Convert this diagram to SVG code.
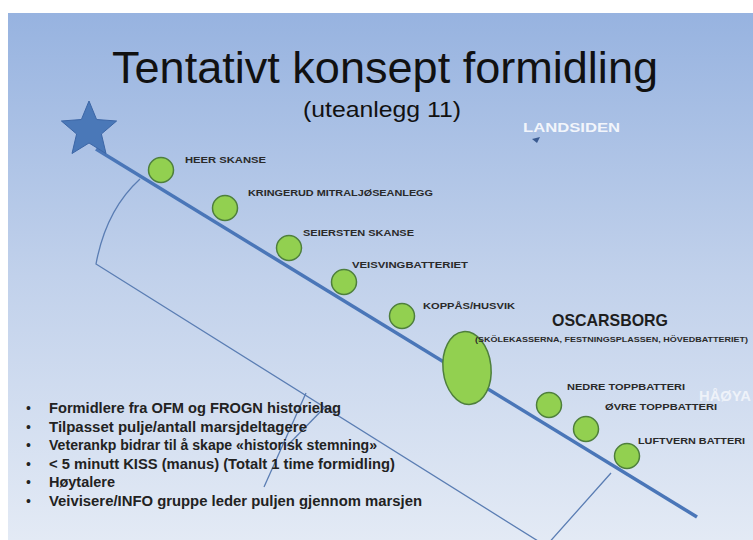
<svg xmlns="http://www.w3.org/2000/svg" width="753" height="540" viewBox="0 0 753 540">
<defs>
<linearGradient id="bg" x1="0" y1="0" x2="0" y2="1">
<stop offset="0" stop-color="#97b3e0"/>
<stop offset="0.5" stop-color="#c1d1eb"/>
<stop offset="1" stop-color="#e3eaf5"/>
</linearGradient>
</defs>
<style>
.lbl{font-family:"Liberation Sans",Arial,sans-serif;font-weight:bold;font-size:8.5px;fill:#2a2a2a}
.stop{fill:#92d050;stroke:#4e7f3c;stroke-width:1.5}
.thin{fill:none;stroke:#5a7db3;stroke-width:1.3}
.bul{font-family:"Liberation Sans",Arial,sans-serif;font-weight:bold;font-size:14px;fill:#222}
.dot{font-family:"Liberation Sans",Arial,sans-serif;font-size:14px;fill:#222}
</style>
<rect x="0" y="0" width="753" height="540" fill="#ffffff"/>
<rect x="8" y="13" width="745" height="527" fill="url(#bg)"/>

<g id="title">
<text x="385" y="83" text-anchor="middle" font-family="Liberation Sans, Arial, sans-serif" font-size="44" fill="#111" textLength="546" lengthAdjust="spacingAndGlyphs">Tentativt konsept formidling</text>
<text x="382" y="117" text-anchor="middle" font-family="Liberation Sans, Arial, sans-serif" font-size="22" fill="#111" textLength="158" lengthAdjust="spacingAndGlyphs">(uteanlegg 11)</text>
</g>

<g id="connectors">
<line x1="96" y1="149" x2="697" y2="517" stroke="#4a76b8" stroke-width="3.5"/>
<path class="thin" d="M140,179 Q106,210 96,264 L546,546 L611,473"/>
<path class="thin" d="M264,487 L306,393"/>
<path class="thin" d="M287,446 L326,406"/>
</g>

<g id="start">
<polygon points="89,101 96.6,119.5 116.6,121 101.4,134 106,153.5 89,143 72,153.5 76.6,134 61.4,121 81.4,119.5" fill="#4a78b8" stroke="#3c66a6" stroke-width="1"/>
</g>

<g id="landsiden">
<text x="523" y="132" font-family="Liberation Sans, Arial, sans-serif" font-weight="bold" font-size="13" fill="#f2f5fb" textLength="97" lengthAdjust="spacingAndGlyphs">LANDSIDEN</text>
<polygon points="532,139 540,137 537,143" fill="#3a5a90"/>
</g>

<g id="haoya">
<text x="699" y="401" font-family="Liberation Sans, Arial, sans-serif" font-weight="bold" font-size="15" fill="#eef2f9" textLength="52" lengthAdjust="spacingAndGlyphs">HÅØYA</text>
</g>

<g id="heer">
<circle class="stop" cx="161" cy="170" r="12.5"/>
<text class="lbl" x="185" y="163" textLength="81" lengthAdjust="spacingAndGlyphs">HEER SKANSE</text>
</g>
<g id="kringerud">
<circle class="stop" cx="225" cy="208" r="12.5"/>
<text class="lbl" x="248" y="196" textLength="185" lengthAdjust="spacingAndGlyphs">KRINGERUD MITRALJØSEANLEGG</text>
</g>
<g id="seiersten">
<circle class="stop" cx="289" cy="248" r="12.5"/>
<text class="lbl" x="303" y="236" textLength="111" lengthAdjust="spacingAndGlyphs">SEIERSTEN SKANSE</text>
</g>
<g id="veisving">
<circle class="stop" cx="344" cy="282" r="12.5"/>
<text class="lbl" x="352" y="268" textLength="116" lengthAdjust="spacingAndGlyphs">VEISVINGBATTERIET</text>
</g>
<g id="koppaas">
<circle class="stop" cx="402" cy="316" r="12.5"/>
<text class="lbl" x="423" y="309" textLength="92" lengthAdjust="spacingAndGlyphs">KOPPÅS/HUSVIK</text>
</g>
<g id="oscarsborg">
<ellipse class="stop" cx="467" cy="368" rx="24" ry="36.5" transform="rotate(-6 467 368)"/>
<text x="552" y="326" font-family="Liberation Sans, Arial, sans-serif" font-weight="bold" font-size="17" fill="#1e1e1e" textLength="116" lengthAdjust="spacingAndGlyphs">OSCARSBORG</text>
<text class="lbl" x="475" y="342" textLength="273" lengthAdjust="spacingAndGlyphs" style="font-size:7px">(SKÖLEKASSERNA,   FESTNINGSPLASSEN,   HÖVEDBATTERIET)</text>
</g>
<g id="nedre">
<circle class="stop" cx="549" cy="405" r="12.5"/>
<text class="lbl" x="567" y="390" textLength="118" lengthAdjust="spacingAndGlyphs">NEDRE TOPPBATTERI</text>
</g>
<g id="ovre">
<circle class="stop" cx="586" cy="429" r="12.5"/>
<text class="lbl" x="605" y="410" textLength="112" lengthAdjust="spacingAndGlyphs">ØVRE TOPPBATTERI</text>
</g>
<g id="luftvern">
<circle class="stop" cx="627" cy="456" r="12.5"/>
<text class="lbl" x="638" y="444" textLength="107" lengthAdjust="spacingAndGlyphs">LUFTVERN BATTERI</text>
</g>

<g id="bullets">
<text class="dot" x="26" y="413">•</text>
<text class="bul" x="49" y="413" textLength="292" lengthAdjust="spacingAndGlyphs">Formidlere fra OFM og FROGN historielag</text>
<text class="dot" x="26" y="431.6">•</text>
<text class="bul" x="49" y="431.6" textLength="258" lengthAdjust="spacingAndGlyphs">Tilpasset pulje/antall marsjdeltagere</text>
<text class="dot" x="26" y="450.2">•</text>
<text class="bul" x="49" y="450.2" textLength="328" lengthAdjust="spacingAndGlyphs">Veterankp bidrar til å skape «historisk stemning»</text>
<text class="dot" x="26" y="468.8">•</text>
<text class="bul" x="49" y="468.8" textLength="346" lengthAdjust="spacingAndGlyphs">&lt; 5 minutt KISS (manus) (Totalt 1 time formidling)</text>
<text class="dot" x="26" y="487.4">•</text>
<text class="bul" x="49" y="487.4" textLength="66" lengthAdjust="spacingAndGlyphs">Høytalere</text>
<text class="dot" x="26" y="506">•</text>
<text class="bul" x="49" y="506" textLength="373" lengthAdjust="spacingAndGlyphs">Veivisere/INFO gruppe leder puljen gjennom marsjen</text>
</g>
</svg>
